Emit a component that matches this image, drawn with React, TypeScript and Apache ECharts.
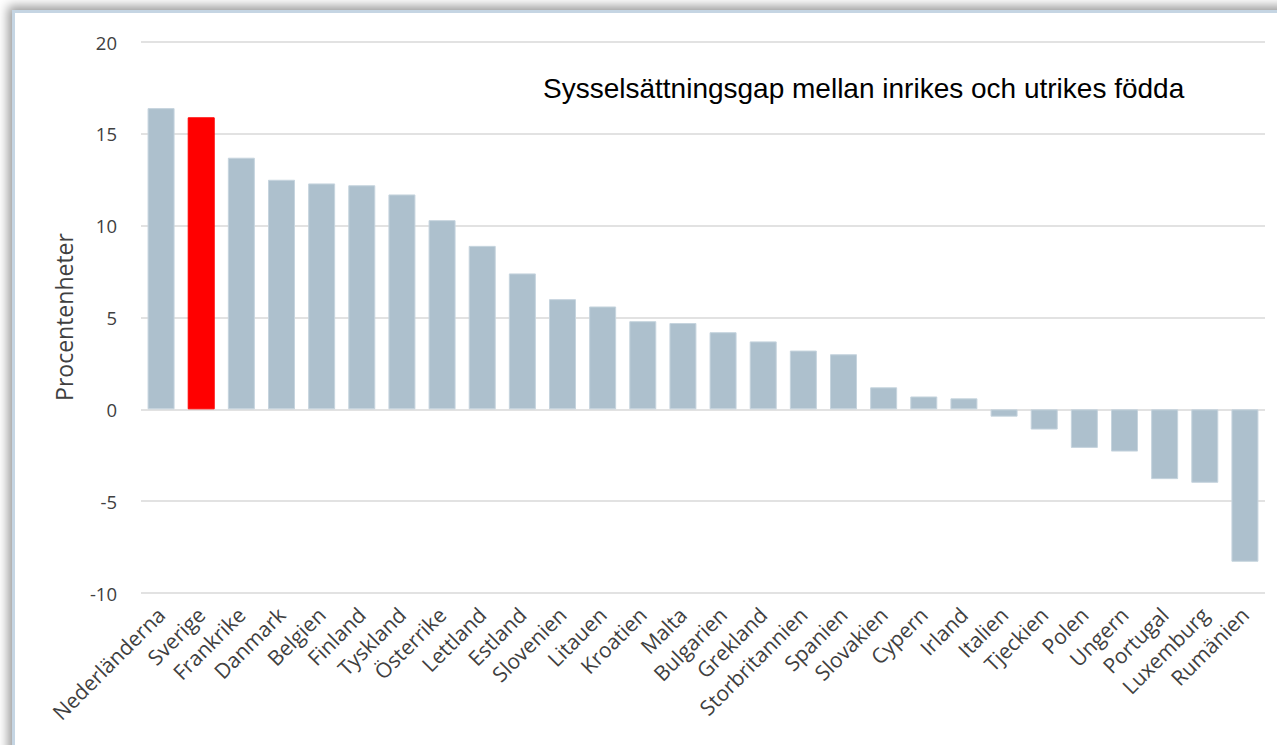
import React, { useEffect, useRef } from "react";
import * as echarts from "echarts";

const countries = [
  "Nederländerna", "Sverige", "Frankrike", "Danmark", "Belgien", "Finland", "Tyskland",
  "Österrike", "Lettland", "Estland", "Slovenien", "Litauen", "Kroatien", "Malta",
  "Bulgarien", "Grekland", "Storbritannien", "Spanien", "Slovakien", "Cypern", "Irland",
  "Italien", "Tjeckien", "Polen", "Ungern", "Portugal", "Luxemburg", "Rumänien",
];
const gapValues = [
  16.4, 15.9, 13.7, 12.5, 12.3, 12.2, 11.7, 10.3, 8.9, 7.4, 6.0, 5.6, 4.8, 4.7,
  4.2, 3.7, 3.2, 3.0, 1.2, 0.7, 0.6, -0.4, -1.1, -2.1, -2.3, -3.8, -4.0, -8.3,
];
const highlighted = ["Sverige"];
const chartTitle = "Sysselsättningsgap mellan inrikes och utrikes födda";
const yAxisTitle = "Procentenheter";
const yMin = -10;
const yMax = 20;
const yStep = 5;

export default function App() {
  const ref = useRef<HTMLDivElement>(null);
  useEffect(() => {
    if (!ref.current) return;
    const chart = echarts.init(ref.current, null, { renderer: "svg" });
    chart.setOption({
      animation: false,
      grid: { left: 141, right: 12, top: 42, bottom: 152 },
      xAxis: {
        type: "category",
        data: countries,
        axisLine: { show: false, onZero: false },
        axisTick: { show: false },
        axisLabel: {
          interval: 0,
          rotate: 45,
          margin: 18,
          fontFamily: "Open Sans",
          fontSize: 21,
          color: "#404040",
        },
      },
      yAxis: {
        type: "value",
        min: yMin,
        max: yMax,
        interval: yStep,
        axisLine: { show: false },
        axisTick: { show: false },
        splitLine: { lineStyle: { color: "#d9d9d9", width: 1.5 } },
        axisLabel: {
          margin: 24,
          fontFamily: "Open Sans",
          fontSize: 18.5,
          color: "#404040",
        },
      },
      graphic: [
        {
          type: "text",
          x: 64,
          y: 317,
          rotation: Math.PI / 2,
          style: {
            text: yAxisTitle,
            fontFamily: "Open Sans",
            fontSize: 23,
            fill: "#404040",
            align: "center",
            verticalAlign: "middle",
          },
        },
        {
          type: "text",
          x: 543,
          y: 88,
          style: {
            text: chartTitle,
            fontFamily: "Liberation Sans",
            fontSize: 28,
            fill: "#000000",
            align: "left",
            verticalAlign: "middle",
          },
        },
      ],
      series: [
        {
          type: "bar",
          barWidth: 27,
          data: countries.map((c, i) => ({
            value: gapValues[i],
            itemStyle: {
              color: highlighted.includes(c) ? "#ff0000" : "#adc0cd",
              borderColor: highlighted.includes(c) ? "#ff0000" : "#c6d4de",
              borderWidth: 1,
            },
          })),
        },
      ],
    });
    return () => chart.dispose();
  }, []);

  return (
    <div style={{ position: "fixed", left: 0, top: 0, width: 1277, height: 745, background: "#ffffff", overflow: "hidden" }}>
      <div
        style={{
          position: "absolute",
          left: 12,
          top: 10,
          width: 1300,
          height: 800,
          border: "3px solid #c5d5e3",
          boxShadow: "0 0 10px 4px rgba(0,0,0,0.4)",
          background: "#ffffff",
        }}
      />
      <div ref={ref} style={{ position: "absolute", left: 0, top: 0, width: 1277, height: 745 }} />
    </div>
  );
}
